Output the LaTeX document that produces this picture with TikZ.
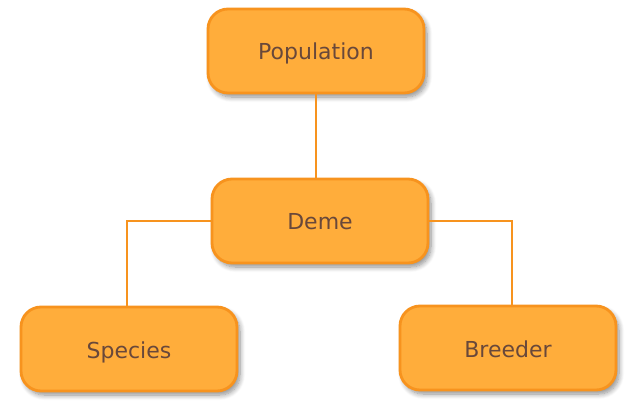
\documentclass[tikz,border=0pt]{standalone}
\usepackage{fontspec}
\setmainfont{DejaVu Sans}
\usetikzlibrary{shadows.blur}
\definecolor{boxfill}{RGB}{255,173,59}
\definecolor{boxline}{RGB}{247,147,30}
\definecolor{boxtext}{RGB}{105,72,58}
\tikzset{
  classbox/.style = {draw = boxline, fill = boxfill, line width = 2.8pt,
    rounded corners = 20pt, minimum width = 216pt, minimum height = 84pt,
    text = boxtext, font = \fontsize{22}{26}\selectfont,
    text height = 18pt, text depth = 0pt,
    blur shadow = {shadow xshift = 3pt, shadow yshift = -4pt,
      shadow blur steps = 8, shadow blur radius = 5pt, shadow opacity = 45}},
  link/.style = {draw = boxline, line width = 2.8pt}
}

\begin{document}
\begin{tikzpicture} [x = 1 pt, y = -1 pt]
    \useasboundingbox (0, 0) rectangle (638, 401);

    \node[classbox] (population) at (316, 51) {Population};
    \node[classbox] (deme) at (320, 221) {Deme};
    \node[classbox] (species) at (129, 349) {Species};
    \node[classbox] (breeder) at (508, 348) {Breeder};

    \draw[link] (population.south) -- (deme.north -| population.south);
    \draw[link] (deme.west) -| ([xshift = -2pt] species.north);
    \draw[link] (deme.east) -| ([xshift = 4pt] breeder.north);
  \end{tikzpicture}
\end{document}
